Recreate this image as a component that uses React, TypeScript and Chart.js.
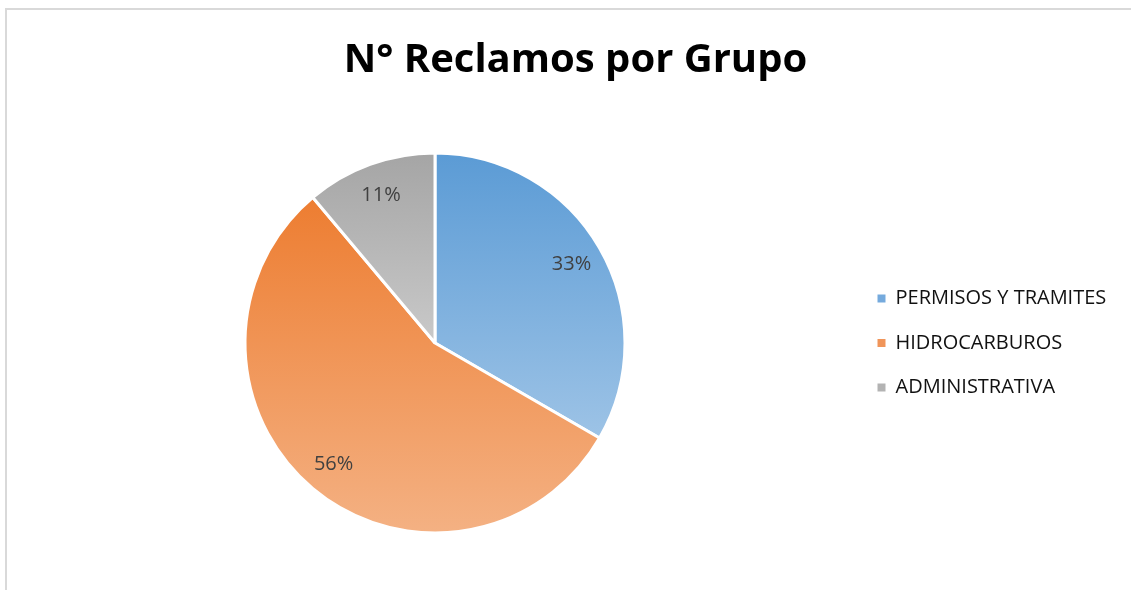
import React, { useEffect, useRef } from "react";
import { Chart, registerables } from "chart.js";

Chart.register(...registerables);

const chartTitle = "N° Reclamos por Grupo";
const categories = ["PERMISOS Y TRAMITES", "HIDROCARBUROS", "ADMINISTRATIVA"];
const reclamos = [3, 5, 1];
const topColors = ["#5b9bd5", "#ed7d31", "#a5a5a5"];
const bottomColors = ["#9dc3e6", "#f4b183", "#c9c9c9"];
const legendColors = ["#75aadd", "#f0955a", "#b3b3b3"];

const CANVAS_W = 1158;
const CANVAS_H = 610;
const FONT = "'Open Sans'";
const LEGEND_WIDTH = 281;

const borderPlugin = {
  id: "frameBorder",
  beforeInit(chart: any) {
    const legend = chart.legend;
    if (legend && !legend.__patched) {
      const origFit = legend.fit;
      legend.fit = function () {
        origFit.call(this);
        this.width = LEGEND_WIDTH;
      };
      legend.__patched = true;
    }
  },
  beforeDraw(chart: any) {
    const ctx = chart.ctx;
    ctx.save();
    ctx.fillStyle = "#ffffff";
    ctx.fillRect(0, 0, chart.width, chart.height);
    ctx.strokeStyle = "#d9d9d9";
    ctx.lineWidth = 2;
    ctx.strokeRect(6, 9, chart.width - 12, chart.height - 18);
    ctx.restore();
  },
};

const gradientPlugin = {
  id: "sliceGradient",
  beforeDatasetsDraw(chart: any) {
    const meta = chart.getDatasetMeta(0);
    const ctx = chart.ctx;
    meta.data.forEach((arc: any, i: number) => {
      const { x, y, startAngle, endAngle, outerRadius } = arc.getProps(
        ["x", "y", "startAngle", "endAngle", "outerRadius"],
        true
      );
      let minY = y;
      let maxY = y;
      const angles = [startAngle, endAngle];
      for (let k = -2; k <= 2; k++) {
        const a1 = -Math.PI / 2 + 2 * Math.PI * k;
        const a2 = Math.PI / 2 + 2 * Math.PI * k;
        if (a1 >= startAngle && a1 <= endAngle) angles.push(a1);
        if (a2 >= startAngle && a2 <= endAngle) angles.push(a2);
      }
      angles.forEach((a) => {
        const py = y + Math.sin(a) * outerRadius;
        minY = Math.min(minY, py);
        maxY = Math.max(maxY, py);
      });
      const g = ctx.createLinearGradient(0, minY, 0, maxY);
      g.addColorStop(0, topColors[i % topColors.length]);
      g.addColorStop(1, bottomColors[i % bottomColors.length]);
      arc.options.backgroundColor = g;
    });
  },
};

const labelPlugin = {
  id: "pctLabels",
  afterDatasetsDraw(chart: any) {
    const meta = chart.getDatasetMeta(0);
    const data = chart.data.datasets[0].data as number[];
    const total = data.reduce((s, v) => s + v, 0);
    const ctx = chart.ctx;
    ctx.save();
    ctx.font = "20px " + FONT;
    ctx.fillStyle = "#404040";
    ctx.textAlign = "center";
    ctx.textBaseline = "middle";
    meta.data.forEach((arc: any, i: number) => {
      const { x, y, startAngle, endAngle, outerRadius } = arc.getProps(
        ["x", "y", "startAngle", "endAngle", "outerRadius"],
        true
      );
      const mid = (startAngle + endAngle) / 2;
      const r = outerRadius * 0.83;
      const pct = Math.round((data[i] / total) * 100) + "%";
      ctx.fillText(pct, x + Math.cos(mid) * r, y + Math.sin(mid) * r);
    });
    ctx.restore();
  },
};

export default function App() {
  const canvasRef = useRef<HTMLCanvasElement | null>(null);

  useEffect(() => {
    if (!canvasRef.current) return;
    const chart = new Chart(canvasRef.current, {
      type: "pie",
      data: {
        labels: categories,
        datasets: [
          {
            data: reclamos,
            backgroundColor: legendColors,
            borderColor: "#ffffff",
            borderWidth: 3,
          },
        ],
      },
      options: {
        responsive: false,
        animation: false,
        radius: 190,
        layout: { padding: { left: 17, right: 24, top: 0, bottom: 28 } },
        plugins: {
          title: {
            display: true,
            text: chartTitle,
            color: "#000000",
            font: { family: FONT, size: 40, weight: "bold" },
            padding: { top: 37, bottom: 19 },
          },
          legend: {
            display: true,
            position: "right",
            title: {
              display: true,
              text: " ",
              font: { size: 10 },
              padding: { top: 92, bottom: 0 },
            },
            labels: {
              boxWidth: 8,
              boxHeight: 8,
              padding: 24.5,
              color: "#111111",
              font: { family: FONT, size: 20 },
              generateLabels: (chart: any) =>
                categories.map((c, i) => ({
                  text: c,
                  fillStyle: legendColors[i],
                  strokeStyle: legendColors[i],
                  lineWidth: 0,
                  hidden: false,
                  index: i,
                  fontColor: "#111111",
                })),
            },
          },
          tooltip: { enabled: false },
        },
      } as any,
      plugins: [borderPlugin, gradientPlugin, labelPlugin],
    });
    return () => chart.destroy();
  }, []);

  return (
    <div style={{ position: "fixed", left: 0, top: 0, right: 0, bottom: 0, overflow: "hidden", background: "#fff" }}>
      <canvas ref={canvasRef} width={CANVAS_W} height={CANVAS_H} style={{ display: "block" }} />
    </div>
  );
}
